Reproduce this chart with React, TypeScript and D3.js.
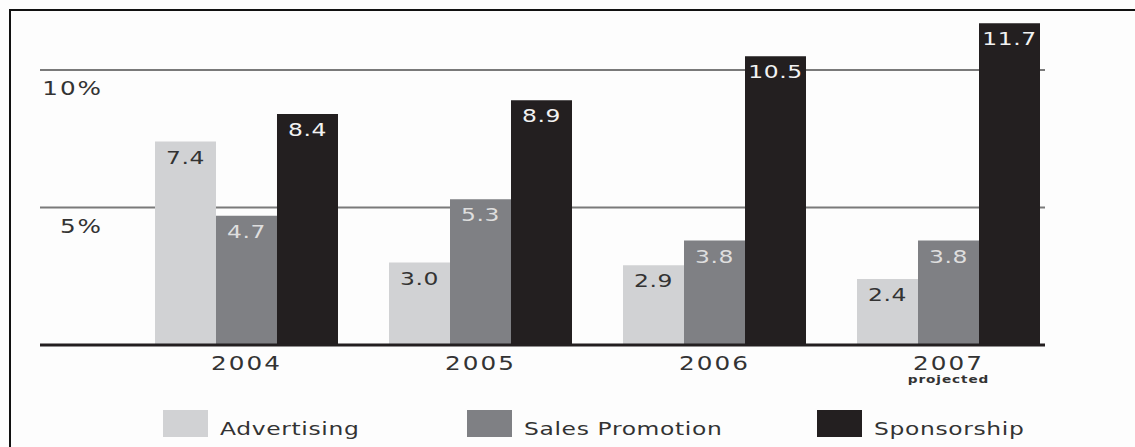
import React from "react";
import * as d3 from "d3";

const years = ["2004", "2005", "2006", "2007"];
const yearNotes = ["", "", "", "projected"];
const seriesNames = ["Advertising", "Sales Promotion", "Sponsorship"];
const advertising = [7.4, 3.0, 2.9, 2.4];
const salesPromotion = [4.7, 5.3, 3.8, 3.8];
const sponsorship = [8.4, 8.9, 10.5, 11.7];
const yTicks = [5, 10];
const yTickLabels = ["5%", "10%"];

const seriesValues = [advertising, salesPromotion, sponsorship];
const fills = ["#d1d2d4", "#7f8084", "#231f20"];
const labelFills = ["#333333", "#dedede", "#f2f2f2"];
const legendX = [163, 467, 817];

const W = 1135;
const H = 447;
const FONT = "'DejaVu Sans', sans-serif";
const SX = 1.3;

function WideText(props: {
  x: number;
  y: number;
  size: number;
  fill: string;
  anchor?: string;
  spacing?: number;
  weight?: string | number;
  children: React.ReactNode;
}) {
  return (
    <g transform={`translate(${props.x},${props.y}) scale(${SX},1)`}>
      <text
        x={0}
        y={0}
        fontFamily={FONT}
        fontSize={props.size}
        fill={props.fill}
        textAnchor={props.anchor ?? "start"}
        letterSpacing={props.spacing ?? 0}
        fontWeight={props.weight ?? "normal"}
      >
        {props.children}
      </text>
    </g>
  );
}

export default function App() {
  const x0 = d3.scaleBand<string>().domain(years).range([155, 1040]).paddingInner(0.218).paddingOuter(0);
  const x1 = d3.scaleBand<string>().domain(seriesNames).range([0, x0.bandwidth()]).padding(0);
  const y = d3.scaleLinear().domain([0, 10]).range([345, 70]);
  const gridX0 = 40;
  const gridX1 = 1045;

  return (
    <svg
      width={W}
      height={H}
      style={{ position: "absolute", left: 0, top: 0, background: "#fdfdfd" }}
    >
      <rect x={0} y={0} width={W} height={H} fill="#fdfdfd" />
      {/* gridlines */}
      {yTicks.map((t, i) => (
        <g key={t}>
          <line x1={gridX0} x2={gridX1} y1={y(t)} y2={y(t)} stroke="#7a7a7a" strokeWidth={2} />
          <WideText x={103} y={y(t) + 25} size={19} fill="#333" anchor="end" spacing={1.5}>
            {yTickLabels[i]}
          </WideText>
        </g>
      ))}
      {/* bars */}
      {years.map((yr, gi) => (
        <g key={yr} transform={`translate(${x0(yr)},0)`}>
          {seriesNames.map((s, si) => {
            const v = seriesValues[si][gi];
            const bx = x1(s)!;
            return (
              <g key={s}>
                <rect
                  x={bx}
                  y={y(v)}
                  width={x1.bandwidth()}
                  height={y(0) - y(v)}
                  fill={fills[si]}
                />
                <WideText
                  x={bx + x1.bandwidth() / 2}
                  y={y(v) + 22}
                  size={18}
                  fill={labelFills[si]}
                  anchor="middle"
                  spacing={0.5}
                >
                  {v.toFixed(1)}
                </WideText>
              </g>
            );
          })}
        </g>
      ))}
      {/* baseline */}
      <line x1={gridX0} x2={gridX1} y1={y(0)} y2={y(0)} stroke="#231f20" strokeWidth={3} />
      {/* year labels */}
      {years.map((yr, i) => (
        <g key={yr}>
          <WideText
            x={x0(yr)! + x0.bandwidth() / 2}
            y={y(0) + 25}
            size={19}
            fill="#333"
            anchor="middle"
            spacing={1.6}
          >
            {yr}
          </WideText>
          {yearNotes[i] && (
            <WideText
              x={x0(yr)! + x0.bandwidth() / 2}
              y={y(0) + 38}
              size={10.5}
              fill="#333"
              anchor="middle"
              spacing={0.7}
              weight="bold"
            >
              {yearNotes[i]}
            </WideText>
          )}
        </g>
      ))}
      {/* legend */}
      {seriesNames.map((s, i) => (
        <g key={s}>
          <rect x={legendX[i]} y={410} width={45} height={27} fill={fills[i]} />
          <WideText x={legendX[i] + 57} y={435} size={18} fill="#333" spacing={0.5}>
            {s}
          </WideText>
        </g>
      ))}
      {/* frame */}
      <rect x={10} y={10} width={W + 50} height={H + 50} fill="none" stroke="#111" strokeWidth={2} />
    </svg>
  );
}
